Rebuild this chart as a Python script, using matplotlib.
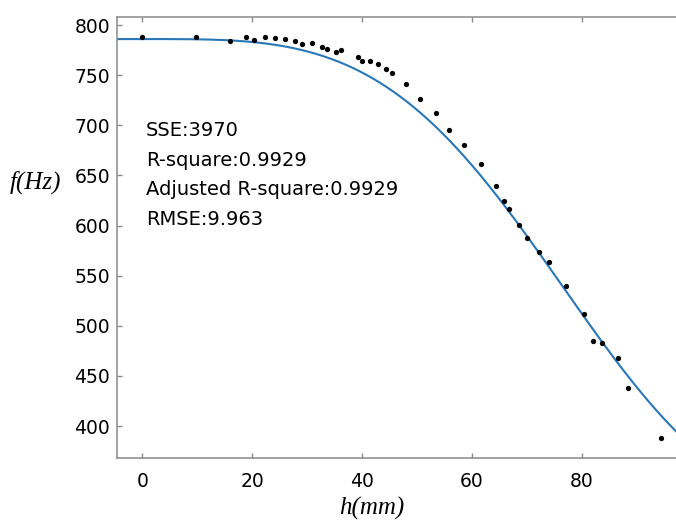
import numpy as np
import matplotlib
matplotlib.use('Agg')
import matplotlib.pyplot as plt

# measured frequency vs. height
h_data = [0.0, 9.8, 16.0, 18.9, 20.4, 22.3, 24.1, 26.0, 27.9, 29.1, 30.9,
          32.7, 33.6, 35.2, 36.1, 39.2, 40.1, 41.4, 42.9, 44.3, 45.4, 48.0,
          50.5, 53.4, 55.8, 58.5, 61.6, 64.5, 65.8, 66.8, 68.6, 70.0, 72.3,
          74.1, 77.1, 80.5, 82.0, 83.7, 86.6, 88.5, 94.5]
f_data = [788.3, 788.3, 784.0, 787.7, 785.0, 788.0, 787.0, 785.7, 784.3, 780.7, 782.3,
          777.8, 775.8, 773.4, 774.8, 768.4, 764.4, 764.4, 760.8, 756.4, 752.4, 741.1,
          725.9, 712.2, 695.6, 680.6, 661.3, 639.7, 624.1, 616.5, 600.8, 587.2, 573.9,
          563.9, 539.4, 511.4, 484.8, 483.1, 467.8, 437.6, 387.6]

# fitted model f = d + (a - d) * exp(-(h/c)^n)
fit_a, fit_d, fit_c, fit_n = 786.0, 305.0, 84.0, 3.55

stats = ['SSE:3970', 'R-square:0.9929', 'Adjusted R-square:0.9929', 'RMSE:9.963']

xticks = [0, 20, 40, 60, 80]
yticks = [400, 450, 500, 550, 600, 650, 700, 750, 800]

W, H = 676, 521
fig = plt.figure(figsize=(W / 100, H / 100), dpi=100)
ax = fig.add_axes([116.5 / W, (H - 457.7) / H, (W - 116.5) / W, (457.7 - 17) / H])

hh = np.linspace(-4.7, 97.5, 400)
ff = fit_d + (fit_a - fit_d) * np.exp(-(np.abs(hh) / fit_c) ** fit_n)
ax.plot(hh, ff, color='#2a77b8', lw=1.5, zorder=2)
ax.plot(h_data, f_data, 'o', color='black', ms=3.8, mec='none', zorder=3)

ax.set_xlim(-4.7, 97.2)
ax.set_ylim(368.4, 808)
ax.set_xticks(xticks)
ax.set_yticks(yticks)

for side in ['left', 'bottom', 'top']:
    ax.spines[side].set_color('#8a8a8a')
    ax.spines[side].set_linewidth(1.1)
ax.spines['right'].set_visible(False)

ax.tick_params(axis='both', direction='in', color='#8a8a8a', length=3.3, width=1,
               labelsize=13.5, labelcolor='black')
ax.tick_params(axis='x', top=True, pad=10.5)
ax.tick_params(axis='y', pad=4.7)

for i, s in enumerate(stats):
    fig.text(146 / W, (H - (130.5 + 29.6 * i)) / H, s, fontsize=14,
             ha='left', va='center')

fig.text(10 / W, (H - 182.7) / H, 'f(Hz)', fontsize=18, family='Liberation Serif',
         style='italic', ha='left', va='center')
fig.text(371.5 / W, (H - 508) / H, 'h(mm)', fontsize=18, family='Liberation Serif',
         style='italic', ha='center', va='center')

fig.savefig('out.png', dpi=100)
